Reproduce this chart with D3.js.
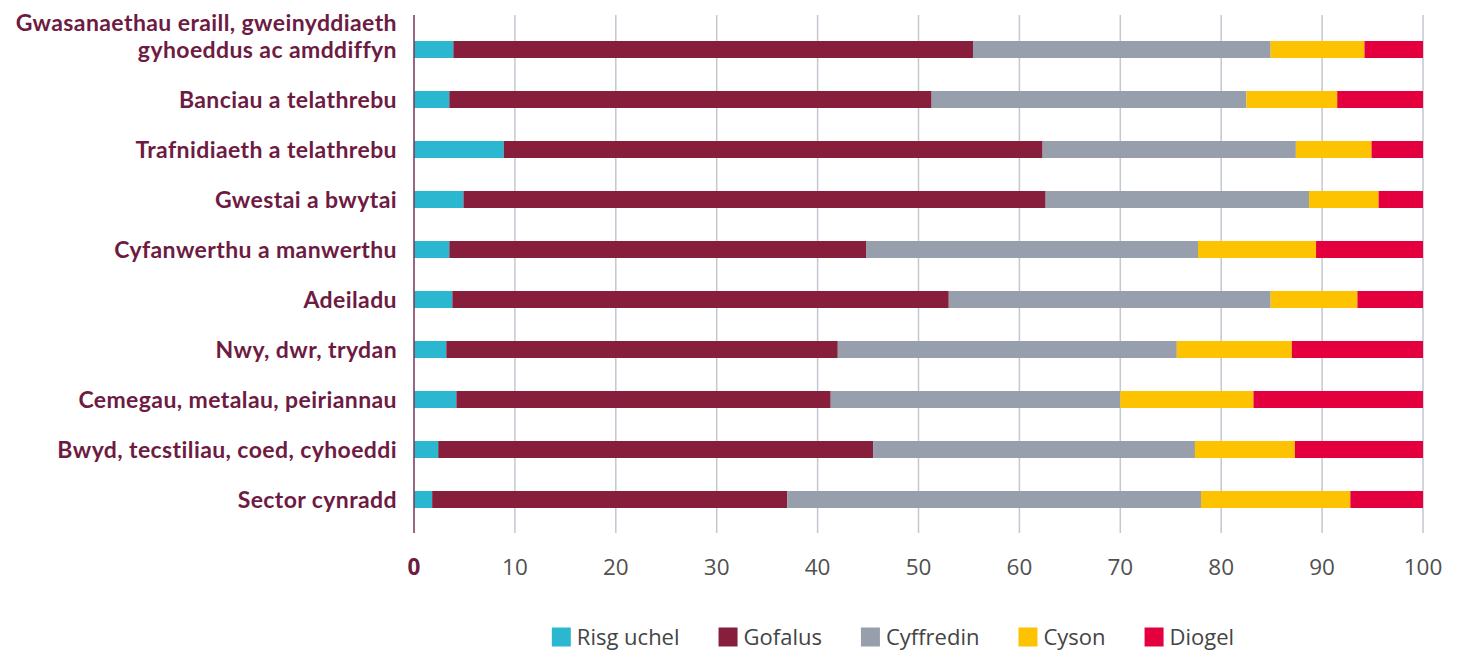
<!DOCTYPE html>
<html>
<head>
<meta charset="utf-8">
<title>Sectorau</title>
<script src="https://d3js.org/d3.v7.min.js"></script>
<style>
  html, body { margin: 0; background: #fff; }
  .cat-label { font-family: Lato, "Open Sans", sans-serif; font-weight: 700; font-size: 23px; letter-spacing: 0.4px; fill: #6d1b42; }
  .tick-label { font-family: "Open Sans", sans-serif; font-size: 22.5px; fill: #505050; }
  .legend-text { font-family: "Open Sans", sans-serif; font-size: 22px; fill: #444; }
</style>
</head>
<body>
<div id="chart"></div>
<script>
// categories top to bottom
const categories = [
  "Gwasanaethau eraill, gweinyddiaeth|gyhoeddus ac amddiffyn",
  "Banciau a telathrebu",
  "Trafnidiaeth a telathrebu",
  "Gwestai a bwytai",
  "Cyfanwerthu a manwerthu",
  "Adeiladu",
  "Nwy, dwr, trydan",
  "Cemegau, metalau, peiriannau",
  "Bwyd, tecstiliau, coed, cyhoeddi",
  "Sector cynradd"
];
const seriesNames = ["Risg uchel", "Gofalus", "Cyffredin", "Cyson", "Diogel"];
const risgUchel = [3.9, 3.5, 8.9, 4.9, 3.5, 3.8, 3.2, 4.2, 2.4, 1.8];
const gofalus   = [51.5, 47.8, 53.4, 57.7, 41.3, 49.2, 38.8, 37.1, 43.1, 35.2];
const cyffredin = [29.5, 31.2, 25.1, 26.1, 32.9, 31.9, 33.6, 28.7, 31.9, 41.0];
const cyson     = [9.3, 9.0, 7.5, 6.9, 11.7, 8.6, 11.4, 13.2, 9.9, 14.8];
const diogel    = [5.8, 8.5, 5.1, 4.4, 10.6, 6.5, 13.0, 16.8, 12.7, 7.2];
const xTicks = [0, 10, 20, 30, 40, 50, 60, 70, 80, 90, 100];
const colors = ["#2bb7cf", "#871f3c", "#989fac", "#fdc300", "#e4003f"];

const W = 1461, H = 651;
const svg = d3.select("#chart").append("svg").attr("width", W).attr("height", H);

const rows = categories.map((c, i) => ({
  cat: c,
  [seriesNames[0]]: risgUchel[i],
  [seriesNames[1]]: gofalus[i],
  [seriesNames[2]]: cyffredin[i],
  [seriesNames[3]]: cyson[i],
  [seriesNames[4]]: diogel[i]
}));
const stacked = d3.stack().keys(seriesNames)(rows);

const x = d3.scaleLinear().domain([0, 100]).range([414, 1423]);
const y = d3.scaleBand().domain(categories).range([24.5, 524.5]).paddingInner(0.66).paddingOuter(0.33);

// grid lines
svg.append("g").selectAll("line").data(xTicks.slice(1)).join("line")
  .attr("x1", d => x(d)).attr("x2", d => x(d))
  .attr("y1", 15).attr("y2", 533)
  .attr("stroke", "#c3c7cf").attr("stroke-width", 1.5);

// bars
svg.append("g").selectAll("g").data(stacked).join("g")
  .attr("fill", (d, i) => colors[i])
  .selectAll("rect").data(d => d).join("rect")
  .attr("x", d => x(d[0]))
  .attr("width", d => x(d[1]) - x(d[0]))
  .attr("y", d => y(d.data.cat))
  .attr("height", y.bandwidth());

// y axis line
svg.append("line")
  .attr("x1", x(0)).attr("x2", x(0)).attr("y1", 15).attr("y2", 533)
  .attr("stroke", "#7a3556").attr("stroke-width", 1.5);

// category labels
categories.forEach(c => {
  const lines = c.split("|");
  const cy = y(c) + y.bandwidth() / 2;
  const t = svg.append("text").attr("class", "cat-label")
    .attr("text-anchor", "end")
    .attr("y", cy - (lines.length - 1) * 27);
  lines.forEach((l, j) => {
    t.append("tspan").attr("x", 397).attr("dy", j === 0 ? "0.35em" : "27px").text(l);
  });
});

// x tick labels
svg.append("g").selectAll("text").data(xTicks).join("text")
  .attr("class", "tick-label")
  .attr("x", d => x(d))
  .attr("y", 567)
  .attr("dy", "0.35em")
  .attr("text-anchor", "middle")
  .style("font-weight", d => d === 0 ? 700 : null)
  .style("fill", d => d === 0 ? "#6d1b42" : null)
  .text(d => d);

// legend
const legend = svg.append("g");
const items = legend.selectAll("g").data(seriesNames).join("g");
items.append("rect").attr("width", 19).attr("height", 19).attr("y", -9.5)
  .attr("fill", (d, i) => colors[i]);
items.append("text").attr("class", "legend-text").attr("x", 25).attr("dy", "0.35em").text(d => d);
let pos = 0;
items.each(function () {
  const w = this.querySelector("text").getComputedTextLength();
  d3.select(this).attr("data-w", w);
});
items.attr("transform", function () {
  const w = +this.getAttribute("data-w");
  const t = `translate(${pos},0)`;
  pos += 25 + w + 39;
  return t;
});
const total = pos - 39;
legend.attr("transform", `translate(${893 - total / 2},637)`);
</script>
</body>
</html>
